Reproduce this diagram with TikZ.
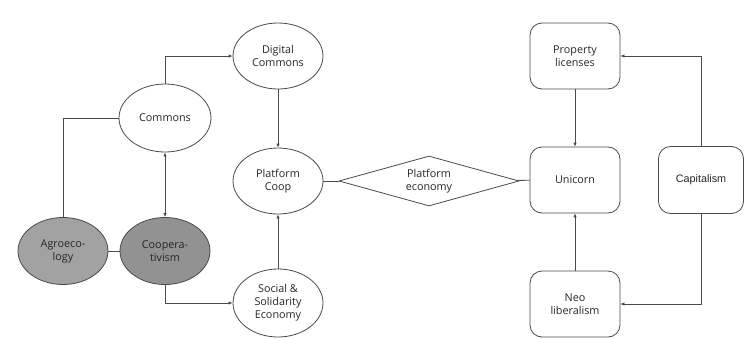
\documentclass[tikz,border=0pt]{standalone}
\usepackage{fontspec}
\setmainfont{Open Sans}
\newfontfamily\arialfont{Liberation Sans}
\usetikzlibrary{shapes.geometric,arrows.meta}
\definecolor{lineg}{HTML}{4A4A4A}
\definecolor{agrog}{HTML}{A2A2A2}
\definecolor{coopg}{HTML}{929292}
\begin{document}
\begin{tikzpicture}[x=1pt, y=-1pt, font=\fontsize{10.8}{13}\selectfont, line join=round,
		>={Latex[length=4pt,width=3.5pt]},
		conn/.style={draw=lineg, line width=0.8pt},
		oval/.style={ellipse, draw=lineg, line width=0.8pt, fill=white, align=center, inner sep=0pt, text=black!85, minimum width=90pt, minimum height=66pt},
		rbox/.style={rectangle, rounded corners=12pt, draw=lineg, line width=0.8pt, fill=white, align=center, inner sep=0pt, text=black!85, minimum width=90pt, minimum height=66pt},
		rhomb/.style={diamond, aspect=3.6, draw=lineg, line width=0.8pt, fill=white, align=center, inner sep=0pt, text=black!85, minimum width=180pt, minimum height=50pt}]
	\useasboundingbox (0,0) rectangle (744,338);
	% left part
	\node[oval] (dig) at (278,56) {Digital\\Commons};
	\node[oval, minimum width=92pt, minimum height=68pt] (com) at (165,118) {Commons};
	\node[oval] (pc) at (278,181) {Platform\\Coop};
	\node[oval, fill=agrog, minimum height=67pt] (agro) at (63,251) {Agroeco-\\logy};
	\node[oval, fill=coopg, minimum height=67pt] (coop) at (165,251) {Coopera-\\tivism};
	\node[oval, minimum height=68pt] (soc) at (278,303) {Social \&\\Solidarity\\Economy};
	% middle
	\node[rhomb] (pe) at (429,181) {Platform\\economy};
	% right part
	\node[rbox] (prop) at (575,56) {Property\\licenses};
	\node[rbox] (uni) at (575,180) {Unicorn};
	\node[rbox] (neo) at (575,304) {Neo\\liberalism};
	\node[rbox, minimum width=85pt, minimum height=67pt, font=\arialfont\fontsize{10.8}{13}\selectfont] (cap) at (701,180) {Capitalism};
	% connectors
	\draw[conn,->] (com.north) |- (dig.west);
	\draw[conn] (com.west) -| (agro.north);
	\draw[conn,<->] (com) -- (coop);
	\draw[conn] (agro) -- (coop);
	\draw[conn,->] (coop.south) |- (soc.west);
	\draw[conn,->] (dig) -- (pc);
	\draw[conn,->] (soc) -- (pc);
	\draw[conn] (pc) -- (pe);
	\draw[conn] (pe) -- (uni);
	\draw[conn,->] (prop) -- (uni);
	\draw[conn,->] (neo) -- (uni);
	\draw[conn,->] (cap.north) |- (prop.east);
	\draw[conn,->] (cap.south) |- (neo.east);
\end{tikzpicture}
\end{document}
